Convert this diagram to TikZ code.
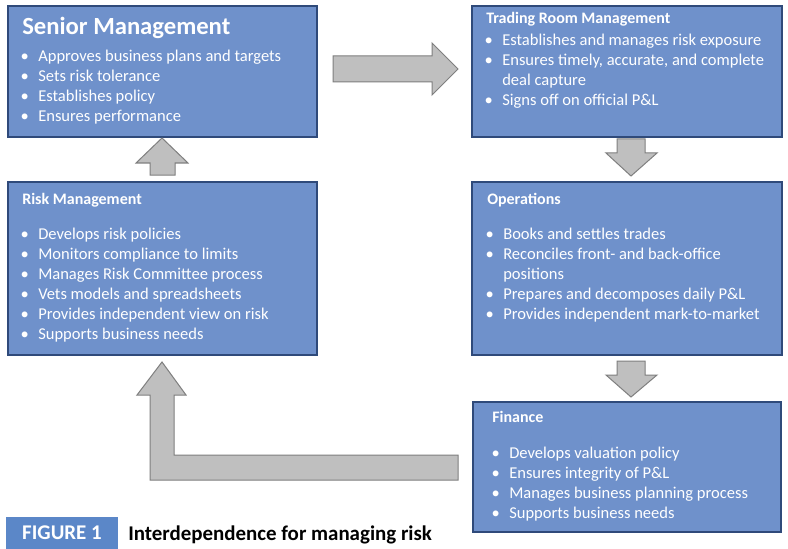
\documentclass[tikz,border=0pt]{standalone}
\usepackage{fontspec}
\setmainfont{Carlito}
\usetikzlibrary{calc}
\definecolor{boxfill}{RGB}{111,145,203}
\definecolor{boxline}{RGB}{47,74,122}
\definecolor{arrfill}{RGB}{191,191,191}
\definecolor{arrline}{RGB}{127,127,127}
\definecolor{figblue}{RGB}{91,135,200}
\newcommand\bul{\makebox[0pt][r]{\textbullet\hspace{7pt}}}
\begin{document}
\begin{tikzpicture}[x=0.75pt,y=-0.75pt,
  blk/.style={draw=boxline, line width=1.5pt, fill=boxfill, inner sep=0pt, outer sep=0pt, anchor=north west},
  txt/.style={text=white, font=\fontsize{12.4}{15}\selectfont, inner sep=0pt, anchor=base west},
  bigtitle/.style={text=white, font=\fontsize{18.5}{22}\selectfont\bfseries, inner sep=0pt, anchor=base west},
  smalltitle/.style={text=white, font=\fontsize{12}{15}\selectfont\bfseries, inner sep=0pt, anchor=base west},
  blockarrow/.style={draw=arrline, line width=0.75pt, fill=arrfill, line join=miter}]
\fill[white] (0,0) rectangle (788,549);
\useasboundingbox (0,0) rectangle (788,549);

% boxes
\node[blk, minimum width={309*0.75pt}, minimum height={131*0.75pt}] (senior) at (8,6) {};
\node[blk, minimum width={310*0.75pt}, minimum height={131*0.75pt}] (trading) at (472,6) {};
\node[blk, minimum width={309*0.75pt}, minimum height={173*0.75pt}] (risk) at (8,182) {};
\node[blk, minimum width={310*0.75pt}, minimum height={173*0.75pt}] (ops) at (472,182) {};
\node[blk, minimum width={308*0.75pt}, minimum height={130*0.75pt}] (finance) at (473,402) {};

% block arrows
\draw[blockarrow] (333,56) -- (432,56) -- (432,43) -- (458,69) -- (432,95) -- (432,82) -- (333,82) -- cycle;
\draw[blockarrow] (150,175) -- (150,163) -- (136,163) -- (162,138) -- (188,163) -- (175,163) -- (175,175) -- cycle;
\draw[blockarrow] (617,139) -- (645,139) -- (645,153) -- (657,153) -- (631,176) -- (606,153) -- (617,153) -- cycle;
\draw[blockarrow] (617,361) -- (645,361) -- (645,375) -- (657,375) -- (631,397) -- (606,375) -- (617,375) -- cycle;
\draw[blockarrow] (458,455) -- (174,455) -- (174,395) -- (186,395) -- (162,362) -- (137,395) -- (150,395) -- (150,480) -- (458,480) -- cycle;

% Senior Management
\node[bigtitle] (sentitle) at (22,35) {Senior Management};
\foreach \t [count=\i from 0] in {Approves business plans and targets, Sets risk tolerance, Establishes policy, Ensures performance}
  \node[txt] (sen\i) at (38,{62+20*\i}) {\bul\t};

% Trading Room Management
\node[smalltitle] (trtitle) at (486,24) {Trading Room Management};
\foreach \t [count=\i from 0] in {\bul Establishes and manages risk exposure, {\bul Ensures timely, accurate, and complete}, deal capture, \bul Signs off on official P\&L}
  \node[txt] (tr\i) at (502,{46+20*\i}) {\t};

% Risk Management
\node[smalltitle] (risktitle) at (22,204) {Risk Management};
\foreach \t [count=\i from 0] in {Develops risk policies, Monitors compliance to limits, Manages Risk Committee process, Vets models and spreadsheets, Provides independent view on risk, Supports business needs}
  \node[txt] (risk\i) at (38,{239+20*\i}) {\bul\t};

% Operations
\node[smalltitle] (opstitle) at (487,204) {Operations};
\foreach \t [count=\i from 0] in {\bul Books and settles trades, \bul Reconciles front- and back-office, positions, \bul Prepares and decomposes daily P\&L, \bul Provides independent mark-to-market}
  \node[txt] (ops\i) at (503,{239+20*\i}) {\t};

% Finance
\node[smalltitle] (fintitle) at (492,422) {Finance};
\foreach \t [count=\i from 0] in {Develops valuation policy, Ensures integrity of P\&L, Manages business planning process, Supports business needs}
  \node[txt] (fin\i) at (509,{458+20*\i}) {\bul\t};

% Figure caption
\node[fill=figblue, anchor=north west, inner sep=0pt, outer sep=0pt, minimum width={112*0.75pt}, minimum height={32*0.75pt}, text=white, font=\fontsize{15.7}{18}\selectfont\bfseries] (figlabel) at (6,517) {FIGURE 1};
\node[anchor=base west, inner sep=0pt, text=black, font=\fontsize{15.7}{18}\selectfont\bfseries] (caption) at (128,540) {Interdependence for managing risk};
\end{tikzpicture}
\end{document}
